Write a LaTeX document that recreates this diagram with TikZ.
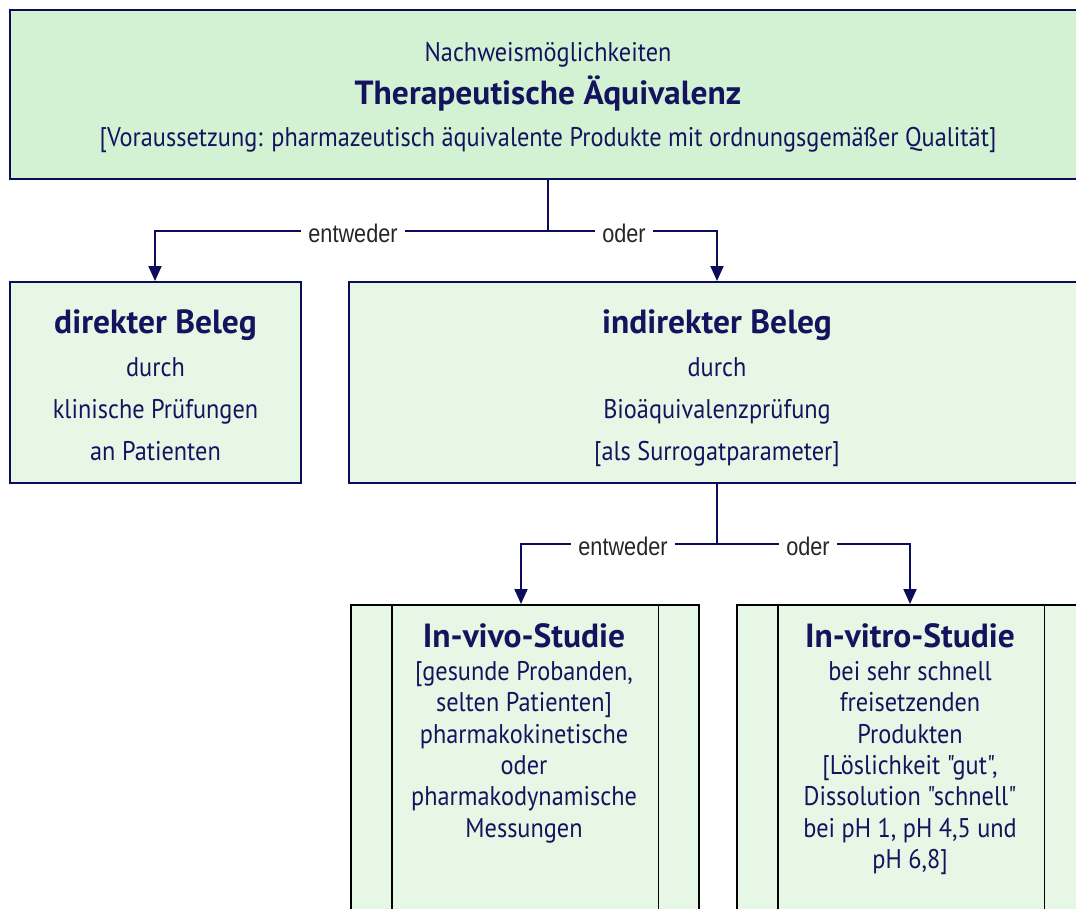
\documentclass[tikz,border=0pt]{standalone}
\usepackage{fontspec}
\setmainfont{PT Sans}[FakeStretch=0.9, Ligatures=TeXOff]
\newfontfamily\headfont{PT Sans}[Ligatures=TeXOff]
\newfontfamily\labelfont{Liberation Sans}[FakeStretch=0.85]
\usetikzlibrary{arrows.meta,calc}
\definecolor{navy}{HTML}{0C0C5A}
\definecolor{inkblue}{HTML}{14145E}
\definecolor{topfill}{HTML}{D3F1D3}
\definecolor{boxfill}{HTML}{E6F7E6}
\tikzset{
  x=1pt, y=-1pt,
  mainbox/.style={draw=navy, line width=2pt, fill=boxfill, rectangle, inner sep=0pt},
  studybox/.style={draw=black, line width=1.6pt, fill=boxfill, rectangle, inner sep=0pt},
  bodytext/.style={text=inkblue, align=center, inner sep=0pt, font=\fontsize{27}{31.4}\selectfont},
  headtext/.style={text=inkblue, inner sep=0pt, anchor=base, font=\headfont\bfseries\fontsize{33.5}{36}\selectfont},
  conn/.style={draw=navy, line width=2pt},
  arr/.style={conn, -{Triangle[width=13pt,length=15pt]}},
  choice/.style={fill=white, inner xsep=7pt, inner ysep=2pt, text=black!85, font=\labelfont\fontsize{25.5}{28}\selectfont},
}
\begin{document}
\begin{tikzpicture}
\useasboundingbox (0,0) rectangle (1076,908);
\clip (0,0) rectangle (1076,908);

% top box
\node[mainbox, fill=topfill, minimum width=1076pt, minimum height=169pt] (top) at (548,94.5) {};
\node[bodytext, anchor=base] (tsub) at (548,61) {Nachweismöglichkeiten};
\node[headtext] (ttitle) at (548,104) {Therapeutische Äquivalenz};
\node[bodytext, anchor=base] (tcond) at (548,146) {[Voraussetzung: pharmazeutisch äquivalente Produkte mit ordnungsgemäßer Qualität]};

% second level
\node[mainbox, minimum width=291pt, minimum height=201pt] (direkt) at (155.5,382.5) {};
\node[mainbox, minimum width=736pt, minimum height=201pt] (indirekt) at (717,382.5) {};

\node[headtext] (dtitle) at (155.5,333) {direkter Beleg};
\node[bodytext, anchor=base] (dtext) at (155.5,376) {durch};
\node[bodytext, anchor=base] (dtext2) at (155.5,418) {klinische Prüfungen};
\node[bodytext, anchor=base] (dtext3) at (155.5,460) {an Patienten};

\node[headtext] (ititle) at (717,333) {indirekter Beleg};
\node[bodytext, anchor=base] (itext) at (717,376) {durch};
\node[bodytext, anchor=base] (itext2) at (717,418) {Bioäquivalenzprüfung};
\node[bodytext, anchor=base] (itext3) at (717,460) {[als Surrogatparameter]};

% branching below the top box
\coordinate (j1) at (548,231);
\draw[conn] (top.south) -- (j1);
\draw[arr] (j1) -| (direkt.north -| 155,0);
\draw[arr] (j1) -| (indirekt.north -| 717,0);
\node[choice] (c1) at (353,233) {entweder};
\node[choice] (c2) at (624,233) {oder};

% study boxes
\node[studybox, minimum width=348pt, minimum height=360pt, anchor=north west] (vivo) at (350,604) {};
\node[studybox, minimum width=348pt, minimum height=360pt, anchor=north west] (vitro) at (736,604) {};
\foreach \b in {vivo,vitro}{
  \draw[black, line width=1.6pt] ($(\b.north west)+(42,0)$) -- ($(\b.south west)+(42,0)$);
  \draw[black, line width=1.6pt] ($(\b.north east)+(-41,0)$) -- ($(\b.south east)+(-41,0)$);
}

\node[headtext] (vivotitle) at (524,647) {In-vivo-Studie};
\node[bodytext, anchor=north] (vivotext) at (524,661) {[gesunde Probanden,\\selten Patienten]\\pharmakokinetische\\oder\\pharmakodynamische\\Messungen};

\node[headtext] (vitrotitle) at (910,647) {In-vitro-Studie};
\node[bodytext, anchor=north] (vitrotext) at (910,661) {bei sehr schnell\\freisetzenden\\Produkten\\{[Löslichkeit "gut",}\\Dissolution "schnell"\\bei pH 1, pH 4,5 und\\pH 6,8]};

% branching below the indirect box
\coordinate (j2) at (717,544);
\draw[conn] (indirekt.south -| 717,0) -- (j2);
\draw[arr] (j2) -| (vivo.north -| 521,0);
\draw[arr] (j2) -| (vitro.north -| 910,0);
\node[choice] (c3) at (623,546) {entweder};
\node[choice] (c4) at (808,546) {oder};
\end{tikzpicture}
\end{document}
